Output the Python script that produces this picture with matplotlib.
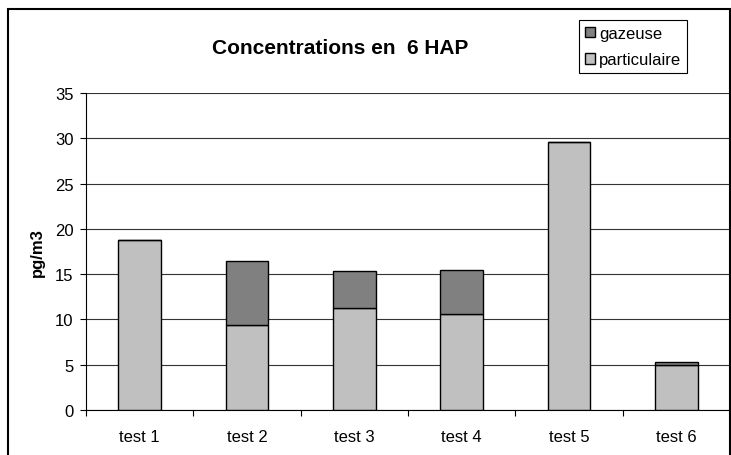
import numpy as np
import matplotlib.pyplot as plt
from matplotlib.patches import Rectangle

plt.rcParams['font.family'] = ['Liberation Sans', 'DejaVu Sans']

tests = ['test 1', 'test 2', 'test 3', 'test 4', 'test 5', 'test 6']
particulaire = [18.8, 9.4, 11.25, 10.65, 29.6, 4.95]
gazeuse = [0.0, 7.0, 4.15, 4.85, 0.0, 0.3]

fig = plt.figure(figsize=(7.31, 4.56), dpi=100)
ax = fig.add_axes([86 / 731, 45 / 456, 644 / 731, 317 / 456])

x = np.arange(len(tests))
ax.bar(x, particulaire, width=0.4, color='#c0c0c0', edgecolor='black', linewidth=1, label='particulaire', zorder=3)
ax.bar(x, gazeuse, width=0.4, bottom=particulaire, color='#808080', edgecolor='black', linewidth=1, label='gazeuse', zorder=3)

ax.set_xlim(-0.5, len(tests) - 0.5)
ax.set_ylim(0, 35)
ax.set_yticks(range(0, 36, 5))
ax.set_xticks(x)
ax.set_xticklabels(tests, fontsize=12)
ax.set_xticks(np.arange(-0.5, len(tests), 1), minor=True)
ax.tick_params(axis='x', which='major', length=0, pad=14)
ax.tick_params(axis='x', which='minor', length=4, direction='out', width=0.8)
ax.tick_params(axis='y', labelsize=12, length=4, direction='out', width=0.8, pad=5)
ax.grid(axis='y', color='#333333', linewidth=0.8, zorder=0)
for side in ['top', 'right']:
    ax.spines[side].set_visible(False)
ax.spines['left'].set_linewidth(0.8)
ax.spines['bottom'].set_linewidth(0.8)
ax.set_ylabel('pg/m3', fontsize=12, fontweight='bold', labelpad=7)

fig.text(340 / 731, 1 - 48 / 456, 'Concentrations en  6 HAP', fontsize=15, fontweight='bold',
         ha='center', va='center')

handles, labels = ax.get_legend_handles_labels()
leg = fig.legend(handles[::-1], labels[::-1], loc='upper left', bbox_to_anchor=(579 / 731, 1 - 21 / 456),
                 fontsize=12, frameon=True, fancybox=False, edgecolor='black', framealpha=1,
                 handlelength=0.6, handleheight=0.6, handletextpad=0.25, borderpad=0.35,
                 labelspacing=0.7, borderaxespad=0)
leg.get_frame().set_linewidth(0.8)

# chart frame
fig.patches.append(Rectangle((8 / 731, -0.05), 722 / 731, 1 - 10 / 456 + 0.05,
                             transform=fig.transFigure, fill=False, edgecolor='black', linewidth=1.5))

fig.savefig('out.png', dpi=100)
